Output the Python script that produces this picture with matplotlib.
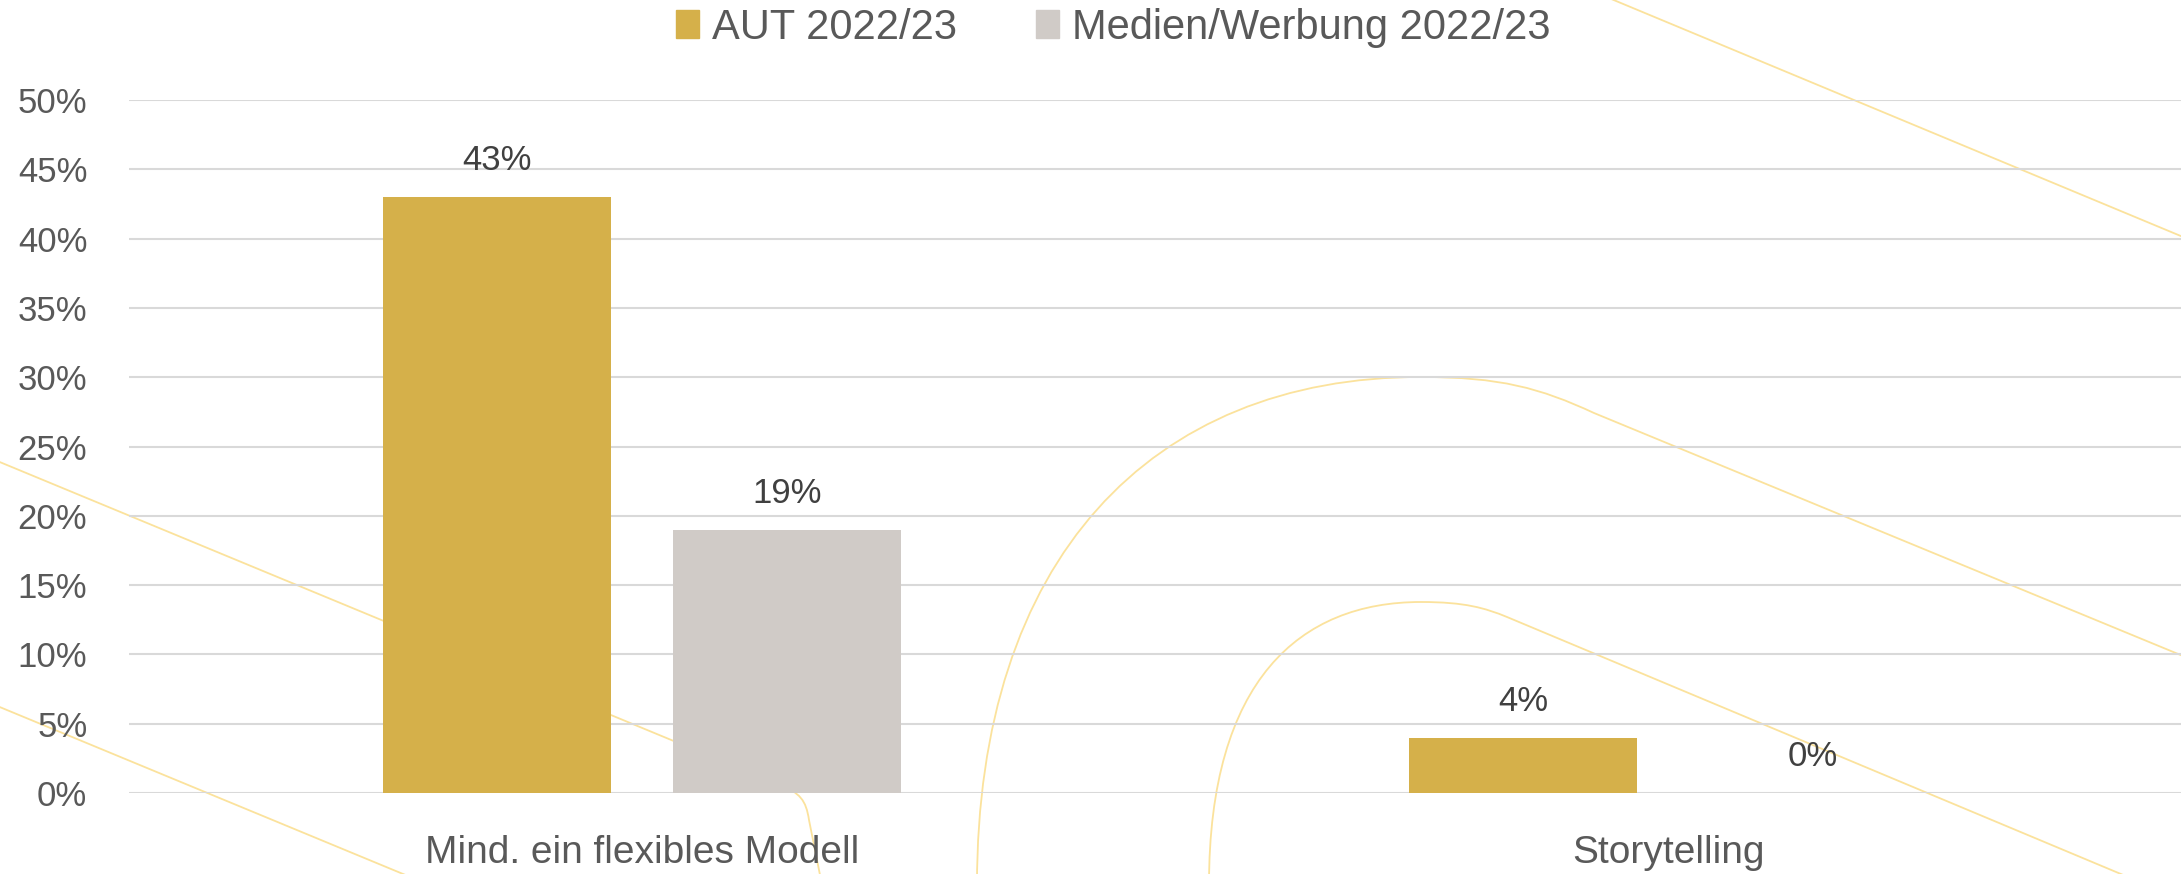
import matplotlib
matplotlib.use("Agg")
import matplotlib.pyplot as plt
import numpy as np
from matplotlib.patches import Patch, PathPatch
from matplotlib.path import Path
from matplotlib.ticker import MultipleLocator, PercentFormatter

plt.rcParams["font.family"] = ["Liberation Sans", "DejaVu Sans"]

# Daten
categories = ["Mind. ein flexibles Modell", "Storytelling"]
series_names = ["AUT 2022/23", "Medien/Werbung 2022/23"]
aut = [0.43, 0.04]
medien = [0.19, 0.00]

GOLD = "#D5B04A"
GREY = "#D0CBC7"
TEXT = "#595959"
GRID = "#D9D9D9"
DECOR = "#FBE29C"

W, H = 2181, 874
fig = plt.figure(figsize=(W / 100, H / 100), dpi=100)

# dekorative Hintergrundlinien (Pixelkoordinaten der Abbildung)
bg = fig.add_axes([0, 0, 1, 1], zorder=0)
bg.set_xlim(0, W)
bg.set_ylim(H, 0)
bg.axis("off")

M, L, C = Path.MOVETO, Path.LINETO, Path.CURVE4
decor_paths = [
    ([(1580, -14), (2200, 244)], [M, L]),
    ([(-10, 458), (780, 785), (800, 793), (806, 800), (809, 820), (822, 885)],
     [M, L, C, C, C, L]),
    ([(-10, 703), (420, 881)], [M, L]),
    ([(977, 885), (977, 560), (1150, 377), (1421, 377),
      (1500, 377), (1540, 388), (1594, 413), (2200, 663)],
     [M, C, C, C, C, C, C, L]),
    ([(1209, 885), (1209, 680), (1300, 602), (1421, 602),
      (1465, 602), (1485, 608), (1507, 617), (2140, 882)],
     [M, C, C, C, C, C, C, L]),
]
for verts, codes in decor_paths:
    bg.add_patch(PathPatch(Path(verts, codes), facecolor="none",
                           edgecolor=DECOR, lw=1.3))

ax = fig.add_axes([129 / W, 1 - 793 / H, 1 - 129 / W, (793 - 100) / H], zorder=1)
ax.patch.set_alpha(0)

x = np.arange(len(categories))
width = 0.222
off = 0.1415
bars_aut = ax.bar(x - off, aut, width, color=GOLD, zorder=3)
bars_med = ax.bar(x + off, medien, width, color=GREY, zorder=3)

for bars in (bars_aut, bars_med):
    for bar in bars:
        h = bar.get_height()
        ax.annotate(f"{h * 100:.0f}%",
                    xy=(bar.get_x() + bar.get_width() / 2, h),
                    xytext=(0, 26), textcoords="offset points",
                    ha="center", va="center", fontsize=25, color="#404040")

ax.set_xlim(-0.5, len(categories) - 0.5)
ax.set_ylim(0, 0.5)
ax.yaxis.set_major_locator(MultipleLocator(0.05))
ax.yaxis.set_major_formatter(PercentFormatter(1.0, decimals=0))
ax.grid(axis="y", color=GRID, lw=1.5, zorder=1)
ax.set_axisbelow(True)
for s in ax.spines.values():
    s.set_visible(False)

ax.set_xticks(x)
ax.set_xticklabels(categories, fontsize=28, color=TEXT)
ax.tick_params(axis="x", length=0, pad=30)
ax.tick_params(axis="y", length=0, pad=30, labelsize=25, labelcolor=TEXT)

handles = [Patch(color=GOLD), Patch(color=GREY)]
leg = fig.legend(handles, series_names, loc="center",
                 bbox_to_anchor=(0.5103, 1 - 28 / H), ncol=2, frameon=False,
                 fontsize=30, handlelength=0.56, handleheight=0.66,
                 handletextpad=0.3, columnspacing=1.9, borderpad=0)
for t in leg.get_texts():
    t.set_color(TEXT)

fig.savefig("out.png", dpi=100)
